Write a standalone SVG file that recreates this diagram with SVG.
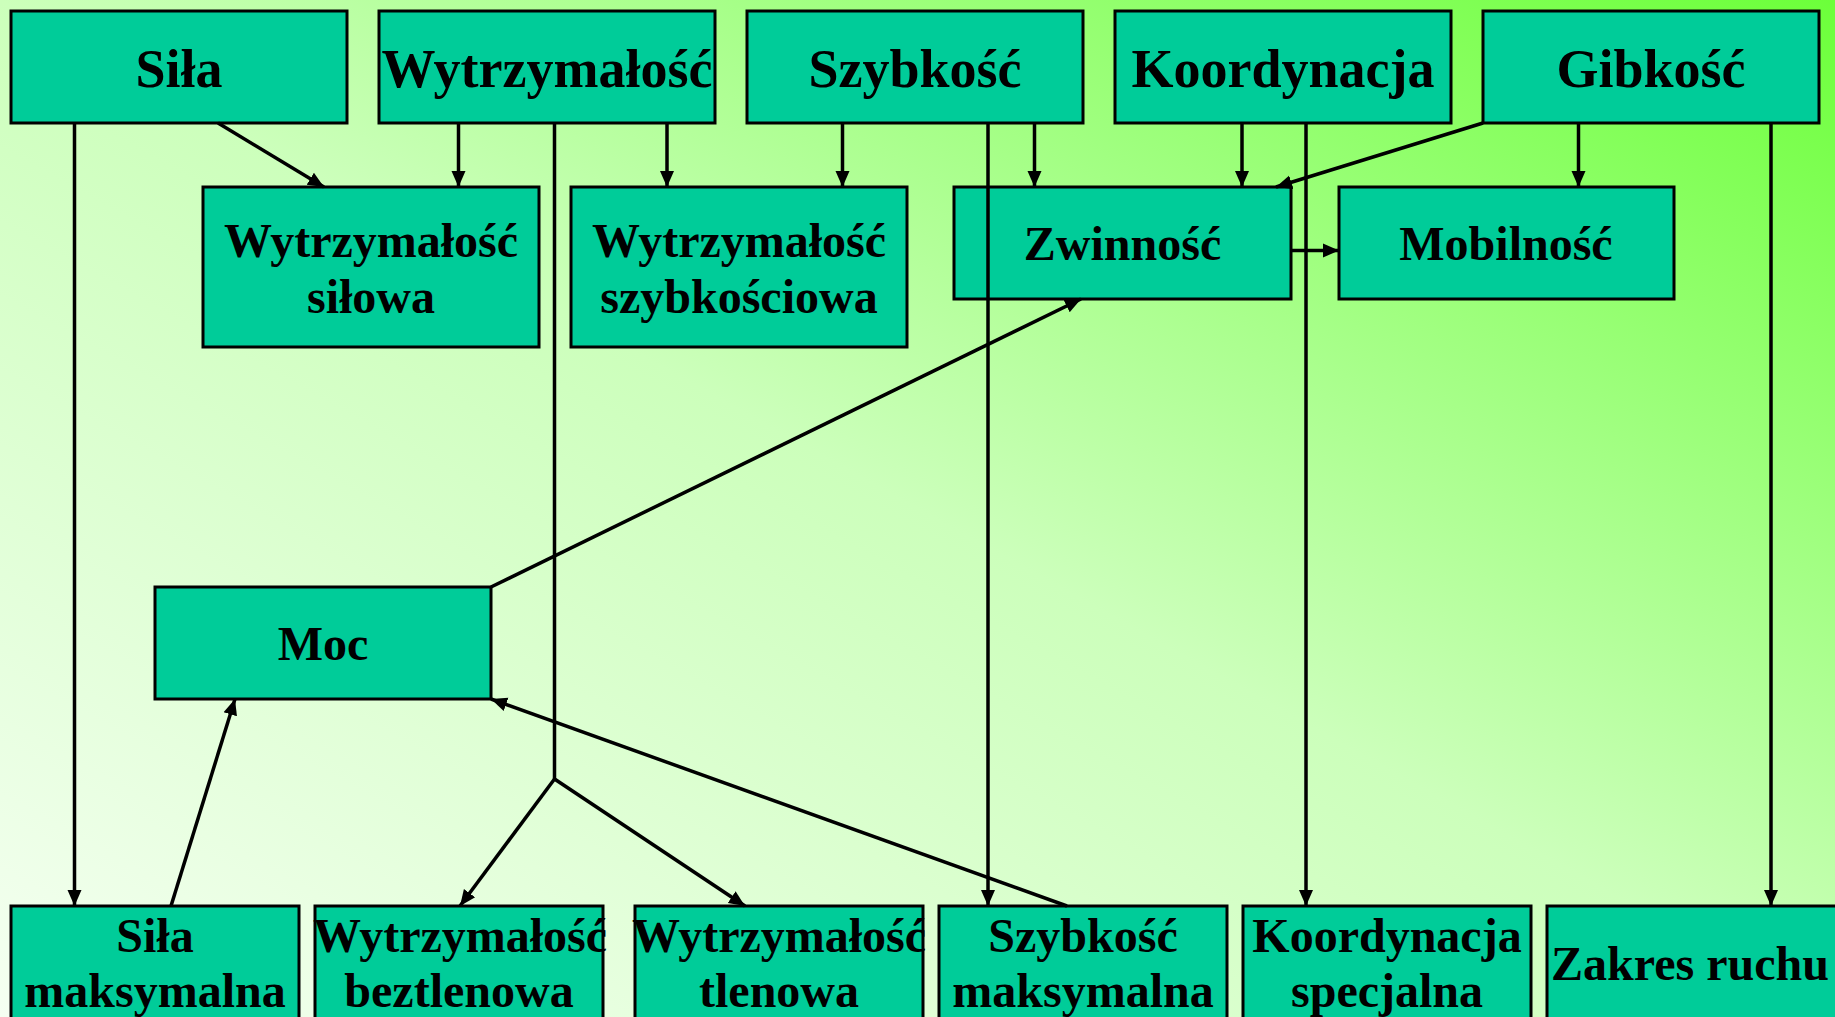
<svg xmlns="http://www.w3.org/2000/svg" width="1835" height="1017" viewBox="0 0 1835 1017">
<defs>
<linearGradient id="bg" x1="0" y1="1" x2="1" y2="0">
<stop offset="0" stop-color="#F5FFF2"/>
<stop offset="0.5" stop-color="#CCFFBB"/>
<stop offset="1" stop-color="#6CFF3A"/>
</linearGradient>
<marker id="ah" markerUnits="userSpaceOnUse" markerWidth="16" markerHeight="16" viewBox="0 0 16 14" refX="16" refY="7" orient="auto">
<path d="M0,0 L16,7 L0,14 z" fill="#000"/>
</marker>
<style>
.box{fill:#00CC99;stroke:#000;stroke-width:3}
.t{font-family:"Liberation Serif","Times New Roman",serif;font-weight:bold;fill:#000;text-anchor:middle}
.top{font-size:54px}
.s{font-size:48px}
.c{fill:none;stroke:#000;stroke-width:3.5}
.a{marker-end:url(#ah)}
</style>
</defs>
<rect x="0" y="0" width="1835" height="1017" fill="url(#bg)"/>
<g id="sila"><rect class="box" x="11" y="11" width="336" height="112"/><text class="t top" x="179" y="87">Siła</text></g>
<g id="wytrzymalosc"><rect class="box" x="379" y="11" width="336" height="112"/><text class="t top" x="547" y="87">Wytrzymałość</text></g>
<g id="szybkosc"><rect class="box" x="747" y="11" width="336" height="112"/><text class="t top" x="915" y="87">Szybkość</text></g>
<g id="koordynacja"><rect class="box" x="1115" y="11" width="336" height="112"/><text class="t top" x="1283" y="87">Koordynacja</text></g>
<g id="gibkosc"><rect class="box" x="1483" y="11" width="336" height="112"/><text class="t top" x="1651" y="87">Gibkość</text></g>
<g id="wytrz-silowa"><rect class="box" x="203" y="187" width="336" height="160"/><text class="t s" x="371" y="257">Wytrzymałość</text><text class="t s" x="371" y="313">siłowa</text></g>
<g id="wytrz-szybkosciowa"><rect class="box" x="571" y="187" width="336" height="160"/><text class="t s" x="739" y="257">Wytrzymałość</text><text class="t s" x="739" y="313">szybkościowa</text></g>
<g id="zwinnosc"><rect class="box" x="954" y="187" width="337" height="112"/><text class="t s" x="1122.5" y="260">Zwinność</text></g>
<g id="mobilnosc"><rect class="box" x="1339" y="187" width="335" height="112"/><text class="t s" x="1506" y="260">Mobilność</text></g>
<g id="moc"><rect class="box" x="155" y="587" width="336" height="112"/><text class="t s" x="323" y="660">Moc</text></g>
<g id="sila-maks"><rect class="box" x="11" y="906" width="288" height="130"/><text class="t s" x="155" y="952">Siła</text><text class="t s" x="155" y="1007">maksymalna</text></g>
<g id="wytrz-beztlenowa"><rect class="box" x="315" y="906" width="288" height="130"/><text class="t s" x="460" y="952">Wytrzymałość</text><text class="t s" x="459" y="1007">beztlenowa</text></g>
<g id="wytrz-tlenowa"><rect class="box" x="635" y="906" width="288" height="130"/><text class="t s" x="779" y="952">Wytrzymałość</text><text class="t s" x="779" y="1007">tlenowa</text></g>
<g id="szybkosc-maks"><rect class="box" x="939" y="906" width="288" height="130"/><text class="t s" x="1083" y="952">Szybkość</text><text class="t s" x="1083" y="1007">maksymalna</text></g>
<g id="koord-specjalna"><rect class="box" x="1243" y="906" width="288" height="130"/><text class="t s" x="1387" y="952">Koordynacja</text><text class="t s" x="1387" y="1007">specjalna</text></g>
<g id="zakres-ruchu"><rect class="box" x="1547" y="906" width="300" height="130"/><text class="t s" x="1690" y="980">Zakres ruchu</text></g>
<g id="connectors">
<line class="c a" x1="218" y1="123" x2="324" y2="187"/>
<line class="c a" x1="458.5" y1="123" x2="458.5" y2="187"/>
<line class="c a" x1="667" y1="123" x2="667" y2="187"/>
<line class="c a" x1="842.5" y1="123" x2="842.5" y2="187"/>
<line class="c a" x1="1034.5" y1="123" x2="1034.5" y2="187"/>
<line class="c a" x1="1242" y1="123" x2="1242" y2="187"/>
<line class="c a" x1="1483" y1="123" x2="1276" y2="187"/>
<line class="c a" x1="1578.5" y1="123" x2="1578.5" y2="187"/>
<line class="c a" x1="1291" y1="250.5" x2="1339" y2="250.5"/>
<line class="c a" x1="74.5" y1="123" x2="74.5" y2="906"/>
<polyline class="c" points="554.5,123 554.5,779"/>
<line class="c a" x1="554.5" y1="779" x2="460" y2="906"/>
<line class="c a" x1="554.5" y1="779" x2="745" y2="906"/>
<line class="c a" x1="988" y1="123" x2="988" y2="906"/>
<line class="c a" x1="1306" y1="123" x2="1306" y2="906"/>
<line class="c a" x1="1771" y1="123" x2="1771" y2="906"/>
<line class="c a" x1="491" y1="587" x2="1081" y2="299"/>
<line class="c a" x1="171" y1="906" x2="235" y2="699"/>
<line class="c a" x1="1067" y1="906" x2="491" y2="699"/>
</g>
</svg>
